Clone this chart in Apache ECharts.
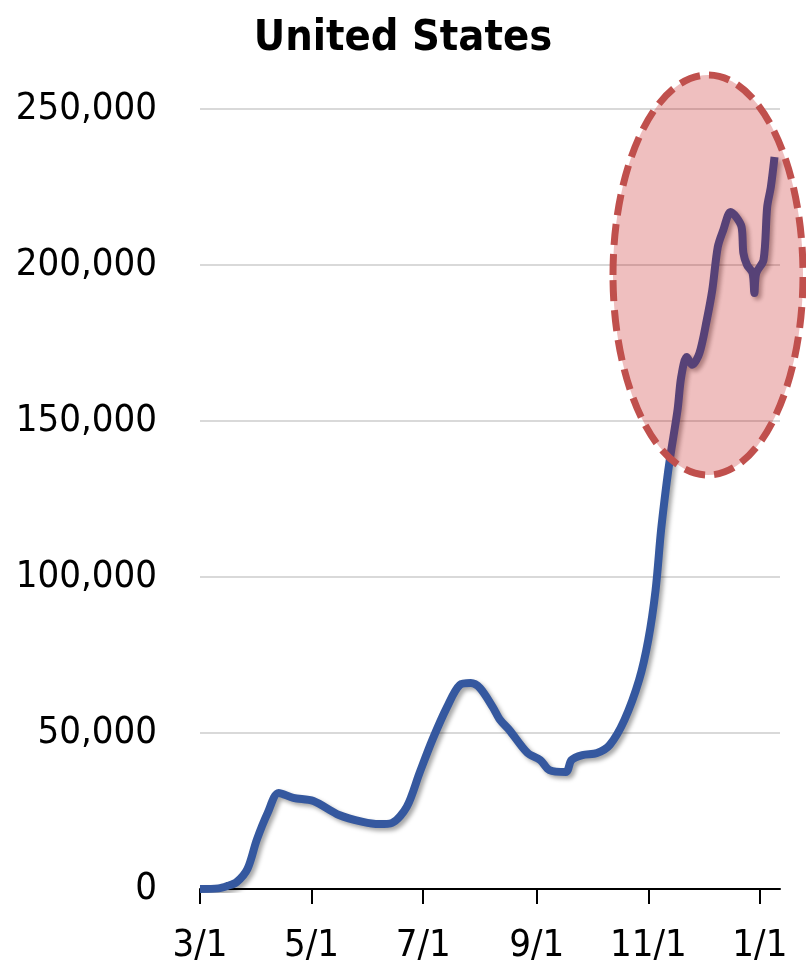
<!DOCTYPE html>
<html>
<head>
<meta charset="utf-8">
<script src="https://cdn.jsdelivr.net/npm/echarts@6/dist/echarts.min.js"></script>
<style>
  html, body { margin: 0; padding: 0; background: #fff; }
  #chart { width: 806px; height: 972px; }
</style>
</head>
<body>
<div id="chart"></div>
<script>
// daily 7-day average of new cases
const sampleDates = [
    '3/1', '3/11', '3/16', '3/21', '3/27', '4/1', '4/7', '4/13', '4/21', '5/2',
    '5/16', '5/29', '6/7', '6/14', '6/22', '6/29', '7/6', '7/14', '7/21', '7/27',
    '8/1', '8/8', '8/12', '8/17', '8/27', '9/3', '9/8', '9/17', '9/20', '9/26',
    '10/4', '10/11', '10/19', '10/27', '11/1', '11/5', '11/8', '11/11', '11/13', '11/17',
    '11/19', '11/22', '11/25', '11/29', '12/3', '12/6', '12/9', '12/12', '12/16', '12/19',
    '12/22', '12/23', '12/25', '12/28', '12/29', '12/30', '1/3', '1/5', '1/7', '1/9'
];
const cases = [
    0, 200, 1000, 2200, 6500, 15700, 24400, 30800, 29200, 28200,
    23700, 21500, 20800, 21200, 26300, 37200, 47800, 58300, 65400, 66000,
    64400, 58300, 54200, 51000, 43600, 41300, 38100, 37500, 41300, 42900,
    43600, 46200, 54200, 67000, 79800, 95800, 115000, 130000, 138500, 153500,
    164100, 170500, 168000, 171800, 182400, 192000, 205800, 211200, 217000, 215400,
    212200, 203800, 200000, 197400, 191000, 197400, 201600, 218600, 225000, 234600
];
const yTicks = [0, 50000, 100000, 150000, 200000, 250000];

// one category per day, 3/1/2020 .. 1/12/2021
const days = [];
for (let d = new Date(2020, 2, 1); d <= new Date(2021, 0, 12); d.setDate(d.getDate() + 1)) {
    days.push((d.getMonth() + 1) + '/' + d.getDate());
}

function isTickDay(idx, val) {
    const p = val.split('/');
    return p[1] === '1' && (+p[0]) % 2 === 1;
}

// no narrow font installed, so ask for the condensed face of DejaVu Sans
const font = '"DejaVu Sans", sans-serif';

const chart = echarts.init(document.getElementById('chart'));
chart.setOption({
    animation: false,
    title: {
        text: 'United States',
        left: 'center',
        top: 12,
        textStyle: { fontFamily: font, fontStyle: 'condensed', fontSize: 43, fontWeight: 'bold', color: '#000' }
    },
    grid: { left: 200, right: 26, top: 109, bottom: 83, outerBoundsMode: 'none' },
    xAxis: {
        type: 'category',
        data: days,
        boundaryGap: false,
        axisLine: { lineStyle: { color: '#000', width: 2 } },
        axisTick: { interval: isTickDay, length: 15, lineStyle: { color: '#000', width: 2 } },
        axisLabel: {
            interval: isTickDay,
            margin: 38,
            fontFamily: font, fontStyle: 'condensed', fontSize: 38, color: '#000'
        },
        splitLine: { show: false }
    },
    yAxis: {
        type: 'value',
        min: yTicks[0],
        max: yTicks[yTicks.length - 1],
        interval: yTicks[1] - yTicks[0],
        axisLine: { show: false },
        axisTick: { show: false },
        axisLabel: {
            margin: 43,
            fontFamily: font, fontStyle: 'condensed', fontSize: 38, color: '#000',
            formatter: v => v.toLocaleString('en-US')
        },
        splitLine: { lineStyle: { color: '#d9d9d9', width: 2 } }
    },
    series: [{
        type: 'line',
        data: sampleDates.map((d, i) => [d, cases[i]]),
        smooth: 0.3,
        showSymbol: false,
        lineStyle: {
            color: '#35589f', width: 8,
            shadowColor: 'rgba(0,0,0,0.35)', shadowBlur: 4, shadowOffsetX: 3, shadowOffsetY: 3
        },
        z: 3
    }],
    graphic: [{
        type: 'ellipse',
        z: 100,
        shape: { cx: 708, cy: 275, rx: 95, ry: 200 },
        style: {
            fill: 'rgba(190,0,0,0.25)',
            stroke: '#c0504d',
            lineWidth: 7,
            lineDash: [21, 9]
        }
    }]
});
</script>
</body>
</html>
